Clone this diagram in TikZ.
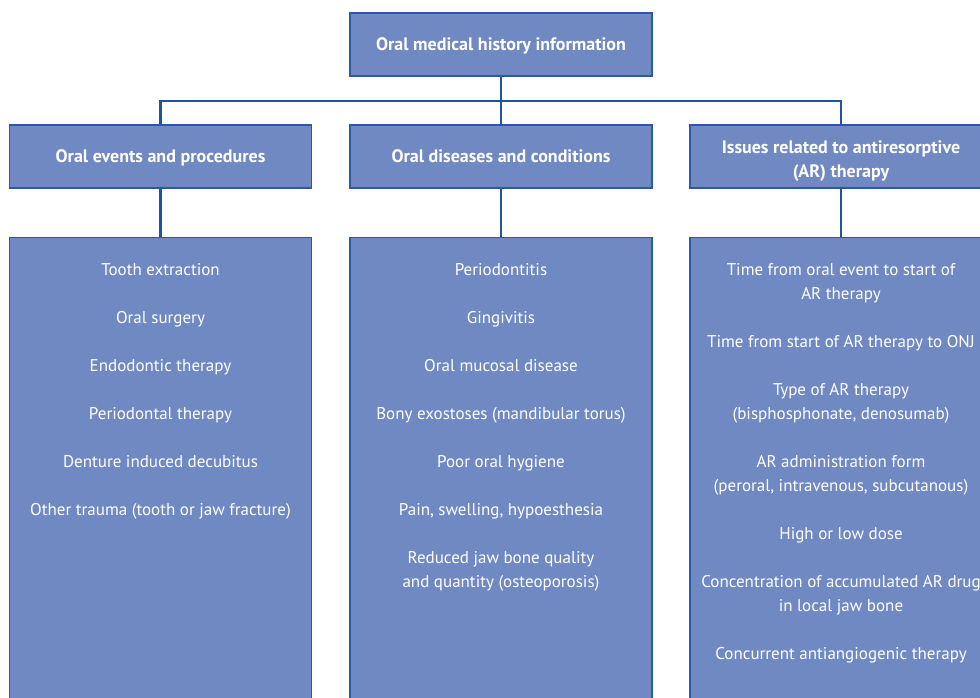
\documentclass[tikz,border=0pt]{standalone}
\usepackage{fontspec}
\setmainfont{PT Sans}
\usetikzlibrary{positioning}

\definecolor{boxfill}{RGB}{112,137,194}
\definecolor{boxline}{RGB}{42,90,166}
\definecolor{linkblue}{RGB}{27,85,160}

\tikzset{
  headbox/.style={draw=boxline, line width=1.2pt, fill=boxfill, text=white,
    minimum width=302pt, minimum height=63pt, inner sep=0pt, align=center,
    text depth=0pt, font=\fontsize{18}{24}\selectfont\bfseries},
  listbox/.style={draw=boxline, line width=1.2pt, fill=boxfill,
    minimum width=302pt, minimum height=480pt, inner sep=0pt, anchor=north},
  listtext/.style={text=white, align=center, inner sep=0pt, anchor=north,
    font=\fontsize{17}{24}\selectfont},
  link/.style={draw=linkblue, line width=2.6pt}
}

\begin{document}
\begin{tikzpicture}[x=1pt, y=-1pt]
    \useasboundingbox (0,0) rectangle (980,698);
    \clip (0,0) rectangle (980,698);

    % Top box
    \node[headbox] (top) at (501,44.5) {Oral medical history information};
    \coordinate (bus) at (501,101);

    % Group headers
    \node[headbox] (hleft) at (160.5,156.5) {Oral events and procedures};
    \node[headbox] (hmid)  at (501,156.5) {Oral diseases and conditions};
    \node[headbox, text height=41pt] (hright) at (841,156.5) {Issues related to antiresorptive\\(AR) therapy};

    % List boxes
    \node[listbox] (lleft) at (160.5,237) {};
    \node[listbox] (lmid)  at (501,237) {};
    \node[listbox] (lright) at (841,237) {};

    \node[listtext, below=26pt of lleft.north] (tleft) {Tooth extraction\\[24pt]
        Oral surgery\\[24pt]
        Endodontic therapy\\[24pt]
        Periodontal therapy\\[24pt]
        Denture induced decubitus\\[24pt]
        Other trauma (tooth or jaw fracture)};
    \node[listtext, below=26pt of lmid.north] (tmid) {Periodontitis\\[24pt]
        Gingivitis\\[24pt]
        Oral mucosal disease\\[24pt]
        Bony exostoses (mandibular torus)\\[24pt]
        Poor oral hygiene\\[24pt]
        Pain, swelling, hypoesthesia\\[24pt]
        Reduced jaw bone quality\\and quantity (osteoporosis)};
    \node[listtext, below=26pt of lright.north] (tright) {Time from oral event to start of\\AR therapy\\[24pt]
        Time from start of AR therapy to ONJ\\[24pt]
        Type of AR therapy\\(bisphosphonate, denosumab)\\[24pt]
        AR administration form\\(peroral, intravenous, subcutanous)\\[24pt]
        High or low dose\\[24pt]
        Concentration of accumulated AR drug\\in local jaw bone\\[24pt]
        Concurrent antiangiogenic therapy};

    % Connectors
    \draw[link] (top.south) -- (bus);
    \draw[link] (hleft.north) -- (hleft.north |- bus) -- (hright.north |- bus) -- (hright.north);
    \draw[link] (bus) -- (hmid.north);
    \draw[link] (hleft.south) -- (lleft.north);
    \draw[link] (hmid.south) -- (lmid.north);
    \draw[link] (hright.south) -- (lright.north);
\end{tikzpicture}
\end{document}
